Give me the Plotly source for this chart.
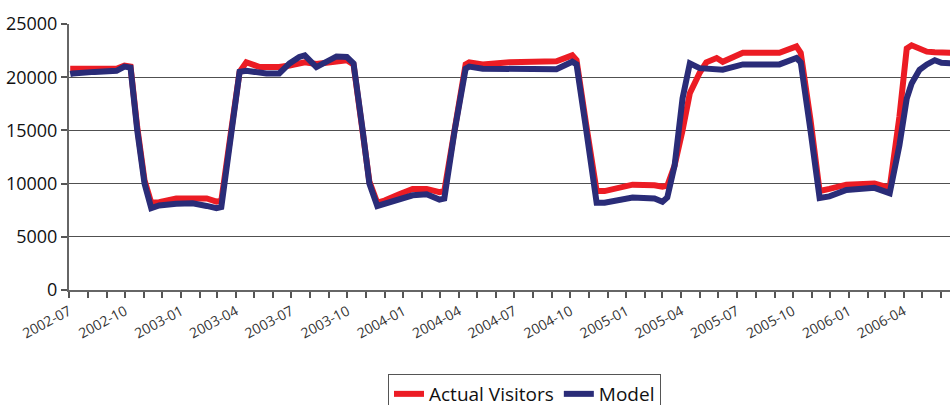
import plotly.graph_objects as go

dates = [
    "2002-07-03", "2002-07-07", "2002-08-12", "2002-09-17", "2002-09-30", "2002-10-10",
    "2002-10-21", "2002-11-02", "2002-11-13", "2002-11-26", "2002-12-24", "2003-01-20",
    "2003-02-12", "2003-02-28", "2003-03-08", "2003-03-23", "2003-04-07", "2003-04-18",
    "2003-05-10", "2003-05-21", "2003-06-11", "2003-06-28", "2003-07-14", "2003-07-23",
    "2003-08-11", "2003-09-13", "2003-09-30", "2003-10-11", "2003-10-26", "2003-11-06",
    "2003-11-19", "2003-12-01", "2003-12-25", "2004-01-16", "2004-02-08", "2004-02-29",
    "2004-03-08", "2004-03-25", "2004-04-12", "2004-04-18", "2004-05-10", "2004-06-23",
    "2004-09-08", "2004-10-04", "2004-10-11", "2004-10-27", "2004-11-13", "2004-11-26",
    "2005-01-11", "2005-02-16", "2005-03-01", "2005-03-09", "2005-03-21", "2005-04-03",
    "2005-04-15", "2005-05-01", "2005-05-12", "2005-05-29", "2005-06-08", "2005-07-11",
    "2005-09-09", "2005-10-07", "2005-10-14", "2005-10-30", "2005-11-14", "2005-11-30",
    "2005-12-28", "2006-02-12", "2006-03-09", "2006-03-25", "2006-03-30", "2006-04-06",
    "2006-04-14", "2006-04-27", "2006-05-09", "2006-05-22", "2006-06-02", "2006-06-20",
]

actual_visitors = [
    20800, 20800, 20800, 20800, 21100, 21000,
    15300, 10300, 8200, 8250, 8600, 8600,
    8600, 8300, 8400, 14500, 20500, 21400,
    20950, 20950, 20950, 21100, 21300, 21400,
    21250, 21500, 21600, 21200, 15300, 10200,
    8200, 8400, 9000, 9500, 9500, 9200,
    9300, 15500, 21200, 21400, 21200, 21400,
    21500, 22050, 21600, 15500, 9300, 9300,
    9900, 9850, 9700, 9800, 11700, 15000,
    18500, 20400, 21400, 21800, 21450, 22300,
    22300, 22900, 22300, 16000, 9300, 9500,
    9900, 10000, 9600, 16300, 19000, 22700,
    23000, 22700, 22400, 22350, 22350, 22300,
]

model = [
    20300, 20350, 20500, 20600, 21000, 20900,
    15000, 10000, 7700, 7950, 8100, 8150,
    7900, 7700, 7800, 14000, 20500, 20600,
    20450, 20350, 20350, 21300, 21900, 22050,
    20950, 21950, 21900, 21300, 15000, 10000,
    7900, 8100, 8600, 8900, 9000, 8500,
    8600, 15000, 20800, 21000, 20800, 20800,
    20750, 21450, 21200, 15000, 8200, 8200,
    8700, 8600, 8300, 8700, 11700, 18000,
    21300, 20850, 20800, 20750, 20700, 21200,
    21200, 21800, 21400, 15000, 8650, 8800,
    9400, 9600, 9100, 13600, 15300, 18000,
    19400, 20700, 21200, 21600, 21350, 21300,
]

y_ticks = [0, 5000, 10000, 15000, 20000, 25000]

RED = "#EC1C24"
BLUE = "#2A2C78"
FONT = "Open Sans"

fig = go.Figure()
fig.add_trace(go.Scatter(x=dates, y=actual_visitors, mode="lines", name="Actual Visitors",
                         line=dict(color=RED, width=6)))
fig.add_trace(go.Scatter(x=dates, y=model, mode="lines", name="Model",
                         line=dict(color=BLUE, width=6)))

fig.update_layout(
    width=950, height=405,
    margin=dict(l=69, r=0, t=24, b=115),
    paper_bgcolor="white", plot_bgcolor="white",
    font=dict(family=FONT, color="#111"),
    showlegend=True,
    legend=dict(orientation="h", xref="container", yref="container",
                x=388 / 950, y=(405 - 374) / 405, xanchor="left", yanchor="top",
                bordercolor="#555", borderwidth=1, font=dict(size=19, color="#111"),
                bgcolor="white"),
)

fig.update_xaxes(
    type="date", automargin=False,
    range=["2002-07-01", "2006-06-16"],
    tick0="2002-07-01", dtick="M3", tickformat="%Y-%m",
    tickangle=-28, tickfont=dict(size=14, color="#333"),
    ticks="outside", ticklen=6, tickcolor="#555", tickwidth=1.5,
    minor=dict(tick0="2002-07-01", dtick="M1", ticks="outside", ticklen=6,
               tickcolor="#555", tickwidth=1.5, showgrid=False),
    showgrid=False, showline=True, linecolor="#666", linewidth=2,
    zeroline=False,
)

fig.update_yaxes(
    automargin=False,
    range=[0, 25000], tickvals=y_ticks, tickformat="d",
    tickfont=dict(size=18, color="#111"),
    ticks="outside", ticklen=6, tickcolor="#555", tickwidth=1.5,
    showgrid=True, gridcolor="#505050", gridwidth=1,
    showline=True, linecolor="#666", linewidth=2, zeroline=False,
)

fig.write_html(
    "out.html",
    config={"displayModeBar": False},
    post_script="document.body.style.margin='0';document.body.style.overflow='hidden';",
)
